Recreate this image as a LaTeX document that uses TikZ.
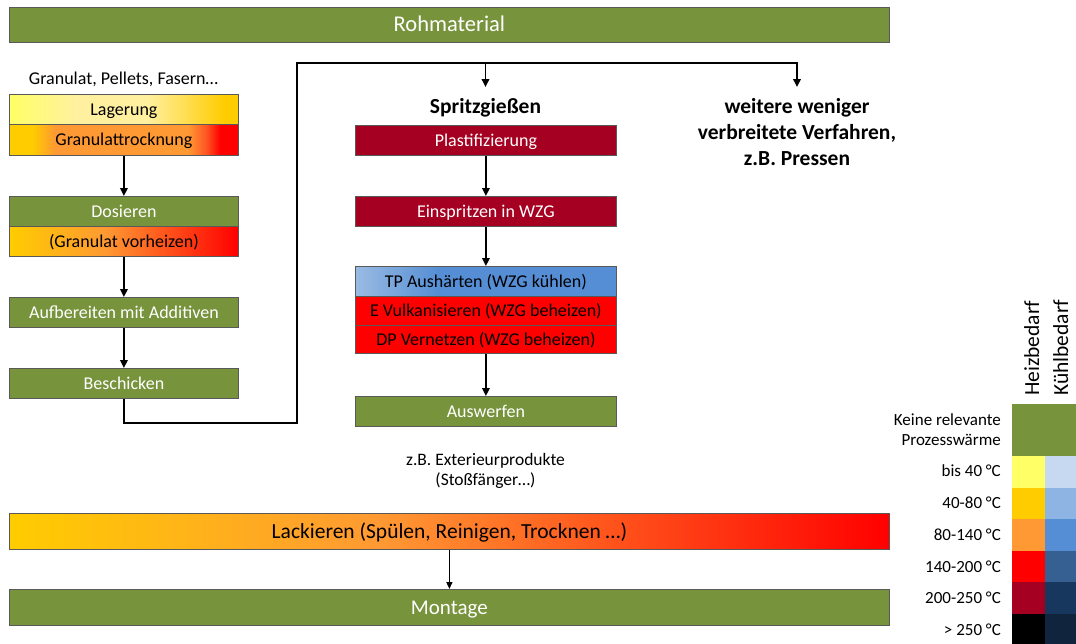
\documentclass[tikz,border=0pt]{standalone}
\usepackage{fontspec}
\setmainfont{Carlito}
\usetikzlibrary{arrows.meta}

% Farben
\definecolor{gruen}{HTML}{77933C}
\definecolor{rand}{HTML}{595959}
\definecolor{hgelb}{HTML}{FFFF66}
\definecolor{hpale}{HTML}{FFF0A0}
\definecolor{hgold}{HTML}{FFCC00}
\definecolor{horange}{HTML}{FF9933}
\definecolor{horot}{HTML}{FF5522}
\definecolor{hrot}{HTML}{FF0000}
\definecolor{hweinrot}{HTML}{A50021}
\definecolor{hschwarz}{HTML}{000000}
\definecolor{kA}{HTML}{C6D9F1}
\definecolor{kB}{HTML}{8EB4E3}
\definecolor{kC}{HTML}{558ED5}
\definecolor{kD}{HTML}{376092}
\definecolor{kE}{HTML}{17375E}
\definecolor{kF}{HTML}{10243E}
\definecolor{kLight}{HTML}{9ABBE2}

% Verlaeufe
\pgfdeclarehorizontalshading{lagerverlauf}{100bp}{color(0bp)=(hgelb); color(25bp)=(hgelb); color(40bp)=(hpale); color(55bp)=(hpale); color(72bp)=(hgold); color(100bp)=(hgold)}
\pgfdeclarehorizontalshading{trockenverlauf}{100bp}{color(0bp)=(hgold); color(30bp)=(hgold); color(35bp)=(horange); color(64bp)=(horange); color(68bp)=(horot); color(71bp)=(hrot); color(100bp)=(hrot)}
\pgfdeclarehorizontalshading{heizverlauf}{100bp}{color(0bp)=(hgold); color(25bp)=(hgold); color(46bp)=(horange); color(75bp)=(hrot); color(100bp)=(hrot)}
\pgfdeclarehorizontalshading{kuehlverlauf}{100bp}{color(0bp)=(kLight); color(25bp)=(kLight); color(41bp)=(kC); color(100bp)=(kC)}

\tikzset{
  box/.style={draw=rand, line width=0.8pt, inner sep=0pt, minimum height=30pt,
    anchor=north west, text height=12pt, text depth=0pt,
    font=\fontsize{18}{21}\selectfont},
  leftbox/.style={box, minimum width=229pt},
  midbox/.style={box, minimum width=261pt},
  bar/.style={box, minimum width=880pt, minimum height=35pt, text height=14pt,
    font=\fontsize{21}{24}\selectfont},
  green/.style={fill=gruen, text=white},
  darkred/.style={fill=hweinrot, text=white},
  redbox/.style={fill=hrot, text=black},
  arr/.style={line width=1.8pt, -{Triangle[length=8pt,width=7.5pt]}},
  thinarr/.style={line width=1.3pt, -{Triangle[length=7pt,width=6pt]}},
  heading/.style={font=\fontsize{21.5}{26}\bfseries\selectfont, align=center,
    anchor=north, inner xsep=0pt, inner ysep=8pt},
  plain/.style={font=\fontsize{17.5}{20}\selectfont, align=center, inner sep=0pt},
  legtext/.style={font=\fontsize{17}{20}\selectfont, align=right, inner sep=0pt, anchor=east},
  legcell/.style={inner sep=0pt, minimum width=33pt, minimum height=32pt, anchor=north west},
  vlabel/.style={rotate=90, anchor=base west, inner sep=0pt, font=\fontsize{21.5}{24}\selectfont},
}

\begin{document}
\begin{tikzpicture}[x=1pt, y=-1pt]
\useasboundingbox (0,0) rectangle (1076,643);

% Balken oben und unten
\node[bar, green, font=\fontsize{22.5}{24}\selectfont] (roh) at (9,7) {Rohmaterial};
\node[bar, shade, shading=heizverlauf, minimum height=36pt, font=\fontsize{21.5}{24}\selectfont] (lack) at (9,513) {Lackieren (Spülen, Reinigen, Trocknen …)};
\node[bar, green, minimum height=36pt] (mont) at (9,589) {Montage};

% Linke Kette: Materialvorbereitung
\node[plain, font=\fontsize{18}{21}\selectfont] (gran) at (123.5,79) {Granulat, Pellets, Fasern…};
\node[leftbox, shade, shading=lagerverlauf] (lag) at (9,94) {Lagerung};
\node[leftbox, shade, shading=trockenverlauf, minimum height=31pt] (trock) at (9,124) {Granulattrocknung};
\node[leftbox, green] (dos) at (9,196) {Dosieren};
\node[leftbox, shade, shading=heizverlauf] (vorh) at (9,226) {(Granulat vorheizen)};
\node[leftbox, green] (aufb) at (9,297) {Aufbereiten mit Additiven};
\node[leftbox, green] (besch) at (9,368) {Beschicken};

\draw[arr] (trock.south) -- (dos.north);
\draw[arr] (vorh.south) -- (aufb.north);
\draw[arr] (aufb.south) -- (besch.north);

% Mittlere Kette: Spritzgiessen
\node[heading] (spr) at (485.5,87) {\strut Spritzgießen};
\node[midbox, darkred] (plast) at (355,125) {Plastifizierung};
\node[midbox, darkred] (einspr) at (355,196) {Einspritzen in WZG};
\node[midbox, shade, shading=kuehlverlauf] (tp) at (355,266) {TP Aushärten (WZG kühlen)};
\node[midbox, redbox, minimum height=29pt] (vulk) at (355,296) {E Vulkanisieren (WZG beheizen)};
\node[midbox, redbox, minimum height=28pt] (vern) at (355,325) {DP Vernetzen (WZG beheizen)};
\node[midbox, green] (ausw) at (355,396) {Auswerfen};
\node[plain] (zb) at (485.5,471) {z.B. Exterieurprodukte\\(Stoßfänger…)};

\draw[arr] (plast.south) -- (einspr.north);
\draw[arr] (einspr.south) -- (tp.north);
\draw[arr] (vern.south) -- (ausw.north);

% Rechte Spalte: weitere Verfahren
\node[heading] (weit) at (797,87) {\strut weitere weniger\\verbreitete Verfahren,\\z.B. Pressen};

% Verzweigung nach dem Beschicken
\coordinate (c1) at (297,423);
\coordinate (c2) at (297,63);
\draw[arr] (besch.south) |- (c1) -- (c2) -| (weit.north);
\draw[arr] (spr.north |- c2) -- (spr.north);

% Lackieren -> Montage
\draw[thinarr] (lack.south) -- (mont.north);

% Legende
\node[vlabel] (heiz) at (1039,396) {Heizbedarf};
\node[vlabel] (kuehl) at (1068,396) {Kühlbedarf};

\node[legcell, fill=gruen, minimum width=64pt, minimum height=52pt] (l0) at (1012,404) {};
\node[legtext] (t0) at (1001,430) {Keine relevante\\Prozesswärme};

\node[legcell, fill=hgelb]    (h1) at (1012,456) {};
\node[legcell, fill=hgold]    (h2) at (1012,487.5) {};
\node[legcell, fill=horange]  (h3) at (1012,519) {};
\node[legcell, fill=hrot]     (h4) at (1012,550.5) {};
\node[legcell, fill=hweinrot] (h5) at (1012,582) {};
\node[legcell, fill=hschwarz] (h6) at (1012,613.5) {};

\node[legcell, fill=kA, minimum width=31pt] (k1) at (1045,456) {};
\node[legcell, fill=kB, minimum width=31pt] (k2) at (1045,487.5) {};
\node[legcell, fill=kC, minimum width=31pt] (k3) at (1045,519) {};
\node[legcell, fill=kD, minimum width=31pt] (k4) at (1045,550.5) {};
\node[legcell, fill=kE, minimum width=31pt] (k5) at (1045,582) {};
\node[legcell, fill=kF, minimum width=31pt] (k6) at (1045,613.5) {};

\node[legtext] (t1) at (1001,471) {bis 40 °C};
\node[legtext] (t2) at (1001,503) {40-80 °C};
\node[legtext] (t3) at (1001,535) {80-140 °C};
\node[legtext] (t4) at (1001,566.5) {140-200 °C};
\node[legtext] (t5) at (1001,598) {200-250 °C};
\node[legtext] (t6) at (1001,630) {> 250 °C};
\end{tikzpicture}
\end{document}
